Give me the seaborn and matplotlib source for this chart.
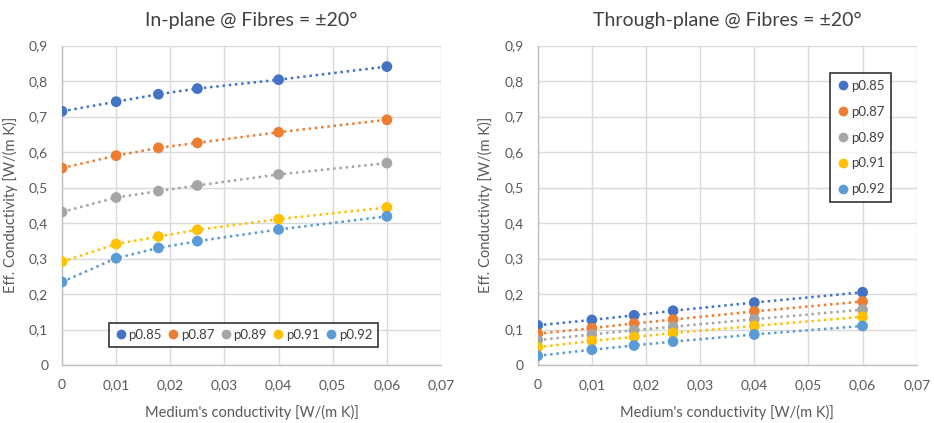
import numpy as np
import pandas as pd
import matplotlib
matplotlib.use("Agg")
import matplotlib.pyplot as plt
import seaborn as sns
from matplotlib.ticker import FuncFormatter, MultipleLocator
from matplotlib.lines import Line2D

# ---- data ----
x_vals = [0, 0.01, 0.0178, 0.025, 0.04, 0.06]
series = ["p0.85", "p0.87", "p0.89", "p0.91", "p0.92"]
colors = ["#4472C4", "#ED7D31", "#A5A5A5", "#FFC000", "#5B9BD5"]

inplane_p085 = [0.715, 0.742, 0.763, 0.779, 0.804, 0.841]
inplane_p087 = [0.555, 0.590, 0.612, 0.626, 0.656, 0.691]
inplane_p089 = [0.431, 0.472, 0.490, 0.506, 0.537, 0.569]
inplane_p091 = [0.291, 0.341, 0.362, 0.381, 0.411, 0.444]
inplane_p092 = [0.234, 0.301, 0.330, 0.349, 0.382, 0.419]

through_p085 = [0.112, 0.127, 0.140, 0.153, 0.176, 0.205]
through_p087 = [0.088, 0.104, 0.117, 0.128, 0.151, 0.179]
through_p089 = [0.070, 0.086, 0.098, 0.108, 0.129, 0.156]
through_p091 = [0.050, 0.068, 0.079, 0.090, 0.110, 0.136]
through_p092 = [0.026, 0.043, 0.055, 0.066, 0.086, 0.110]

titles = ["In-plane @ Fibres = \u00b120\u00b0", "Through-plane @ Fibres = \u00b120\u00b0"]
xlabel = "Medium's conductivity [W/(m K)]"
ylabel = "Eff. Conductivity [W/(m K)]"


def long_df(vals_list):
    rows = []
    for name, vals in zip(series, vals_list):
        for xv, yv in zip(x_vals, vals):
            rows.append({"x": xv, "y": yv, "series": name})
    return pd.DataFrame(rows)


df_in = long_df([inplane_p085, inplane_p087, inplane_p089, inplane_p091, inplane_p092])
df_th = long_df([through_p085, through_p087, through_p089, through_p091, through_p092])

sns.set_theme(style="white")
plt.rcParams["font.family"] = ["Lato", "DejaVu Sans"]

fig = plt.figure(figsize=(9.34, 4.23), dpi=100)
ax1 = fig.add_axes([0.0664, 0.1371, 0.4058, 0.755])
ax2 = fig.add_axes([0.5757, 0.1371, 0.4058, 0.755])

palette = dict(zip(series, colors))
fmt = FuncFormatter(lambda v, p: ("%g" % round(v, 4)).replace(".", ","))

for ax, df, title in [(ax1, df_in, titles[0]), (ax2, df_th, titles[1])]:
    sns.lineplot(data=df, x="x", y="y", hue="series", palette=palette,
                 linestyle=(0, (1, 1.5)), linewidth=1.8, legend=False, ax=ax,
                 zorder=2)
    sns.scatterplot(data=df, x="x", y="y", hue="series", palette=palette,
                    s=60, linewidth=0, legend=False, ax=ax, zorder=3)
    ax.set_xlim(0, 0.07)
    ax.set_ylim(0, 0.9)
    ax.xaxis.set_major_locator(MultipleLocator(0.01))
    ax.yaxis.set_major_locator(MultipleLocator(0.1))
    ax.xaxis.set_major_formatter(fmt)
    ax.yaxis.set_major_formatter(fmt)
    ax.grid(True, color="#D9D9D9", linewidth=1.0)
    ax.set_axisbelow(True)
    for s in ["top", "right"]:
        ax.spines[s].set_visible(False)
    for s in ["left", "bottom"]:
        ax.spines[s].set_color("#BFBFBF")
        ax.spines[s].set_linewidth(1.0)
    ax.tick_params(axis="both", labelsize=10, colors="#595959", length=0, pad=10)
    ax.set_xlabel(xlabel, fontsize=10.5, color="#595959", labelpad=10)
    ax.set_ylabel(ylabel, fontsize=10.5, color="#595959", labelpad=8)
    ax.set_title(title, fontsize=14, color="#404040", pad=14)

handles = [Line2D([0], [0], marker="o", color="none", markerfacecolor=c,
                  markeredgewidth=0, markersize=7, label=n)
           for n, c in zip(series, colors)]

leg1 = ax1.legend(handles=handles, ncol=5, loc="center", bbox_to_anchor=(0.479, 0.094),
                  fontsize=9.5, frameon=True, fancybox=False, handletextpad=0.15,
                  columnspacing=0.4, borderpad=0.45, handlelength=0.9)
leg1.get_frame().set_edgecolor("black")
leg1.get_frame().set_linewidth(1.2)
for t in leg1.get_texts():
    t.set_color("#404040")

leg2 = ax2.legend(handles=handles, ncol=1, loc="center", bbox_to_anchor=(0.852, 0.712),
                  fontsize=9.5, frameon=True, fancybox=False, handletextpad=0.15,
                  labelspacing=1.05, borderpad=0.5, handlelength=0.9)
leg2.get_frame().set_edgecolor("black")
leg2.get_frame().set_linewidth(1.2)
for t in leg2.get_texts():
    t.set_color("#404040")

fig.savefig("out.png", dpi=100, facecolor="white")
